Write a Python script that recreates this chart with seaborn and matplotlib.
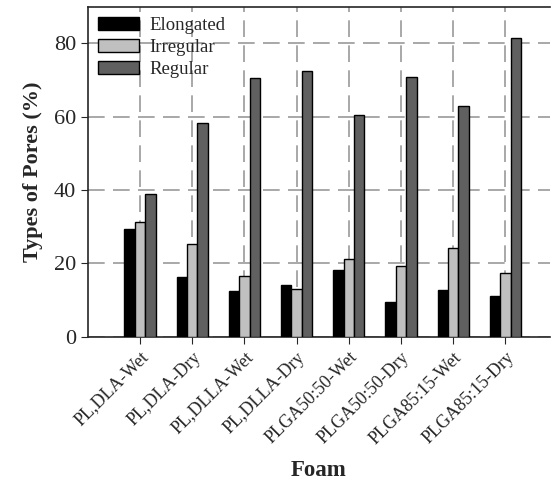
import pandas as pd
import seaborn as sns
import matplotlib.pyplot as plt

foams = ["PL,DLA-Wet", "PL,DLA-Dry", "PL,DLLA-Wet", "PL,DLLA-Dry",
         "PLGA50:50-Wet", "PLGA50:50-Dry", "PLGA85:15-Wet", "PLGA85:15-Dry"]
elongated = [29.4, 16.2, 12.6, 14.1, 18.3, 9.6, 12.8, 11.0]
irregular = [31.3, 25.2, 16.7, 13.0, 21.1, 19.3, 24.1, 17.3]
regular = [39.0, 58.3, 70.6, 72.6, 60.5, 70.9, 62.9, 81.4]
pore_types = ["Elongated", "Irregular", "Regular"]

df = pd.DataFrame({
    "Foam": foams * 3,
    "Type": [t for t in pore_types for _ in foams],
    "Value": elongated + irregular + regular,
})

sns.set_style("ticks")
plt.rcParams['font.family'] = ['Liberation Serif', 'DejaVu Serif']

fig = plt.figure(figsize=(5.52, 4.86), dpi=100)
ax = fig.add_axes([0.159, 0.307, 0.837, 0.679])

sns.barplot(data=df, x="Foam", y="Value", hue="Type", order=foams,
            hue_order=pore_types,
            palette=["#000000", "#c0c0c0", "#606060"],
            width=0.6, edgecolor="black", linewidth=1,
            errorbar=None, saturation=1, ax=ax, zorder=3)

ax.set_ylim(0, 90)
ax.set_xlim(-1, 7.85)
ax.set_yticks([0, 20, 40, 60, 80])
ax.grid(True, color="#999999", linestyle=(0, (10, 5)), linewidth=1.2, zorder=0)
ax.set_axisbelow(True)

ax.spines["right"].set_visible(False)
for s in ["left", "bottom", "top"]:
    ax.spines[s].set_linewidth(1.2)
ax.tick_params(axis="y", labelsize=16, direction="out", length=5)
ax.tick_params(axis="x", labelsize=13, direction="out", length=5)
plt.setp(ax.get_xticklabels(), rotation=45, ha="right", rotation_mode="anchor")

ax.set_xlabel("Foam", fontsize=16.5, fontweight="bold", labelpad=9)
ax.set_ylabel("Types of Pores (%)", fontsize=16, fontweight="bold", labelpad=8)

ax.legend(loc="upper left", frameon=False, fontsize=13.5, handlelength=2.2,
          handleheight=0.7, labelspacing=0.25, borderaxespad=0.15,
          handletextpad=0.55)

fig.savefig("out.png", dpi=100)
